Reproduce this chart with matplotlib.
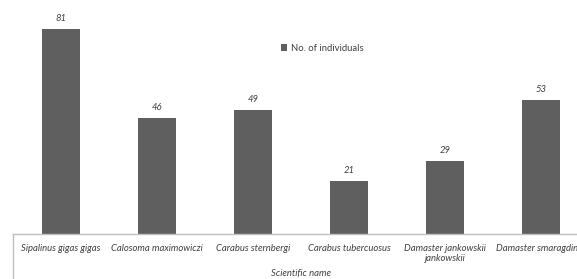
import matplotlib.pyplot as plt

species = ['Sipalinus gigas gigas', 'Calosoma maximowiczi', 'Carabus sternbergi',
           'Carabus tubercuosus', 'Damaster jankowskii\njankowskii', 'Damaster smaragdinus']
counts = [81, 46, 49, 21, 29, 53]

W, H = 577, 279
fig = plt.figure(figsize=(W / 100, H / 100), dpi=100)
# axes run past the right edge, like the cropped original
ax = fig.add_axes([13 / W, 45 / H, 576 / W, 234 / H])

bar_color = '#5f5f5f'
text_color = '#404040'
font = 'Lato'
fs = 6.8

x = list(range(len(species)))
bars = ax.bar(x, counts, width=0.4, color=bar_color, label='No. of individuals')
ax.set_xlim(-0.5, len(species) - 0.5)
ax.set_ylim(0, 92.5)

for b, v in zip(bars, counts):
    ax.text(b.get_x() + b.get_width() / 2, v + 2.3, str(v), ha='center', va='bottom',
            fontsize=fs, style='italic', color=text_color, family=font)

ax.set_xticks(x)
ax.set_xticklabels(species, fontsize=fs, style='italic', color=text_color, family=font,
                   linespacing=1.15, va='top')
ax.tick_params(axis='x', length=0, pad=7)
ax.set_yticks([])

for s in ['top', 'right', 'left']:
    ax.spines[s].set_visible(False)
ax.spines['bottom'].set_color('#bfbfbf')
ax.spines['bottom'].set_linewidth(1.0)

# small vertical rule below the left end of the category axis
ax.plot([0, 0], [0, -45 / 234], transform=ax.transAxes, color='#bfbfbf', lw=1.0, clip_on=False)

fig.text(301 / W, 1 / H, 'Scientific name', ha='center', va='bottom', fontsize=fs,
         style='italic', color=text_color, family=font)

leg = fig.legend(loc='center left', bbox_to_anchor=(272 / W, 1 - 48 / H), frameon=False,
                 handlelength=0.7, handleheight=0.7, handletextpad=0.4,
                 prop={'family': font, 'size': fs})
for t in leg.get_texts():
    t.set_color(text_color)

fig.savefig('out.png', dpi=100)
